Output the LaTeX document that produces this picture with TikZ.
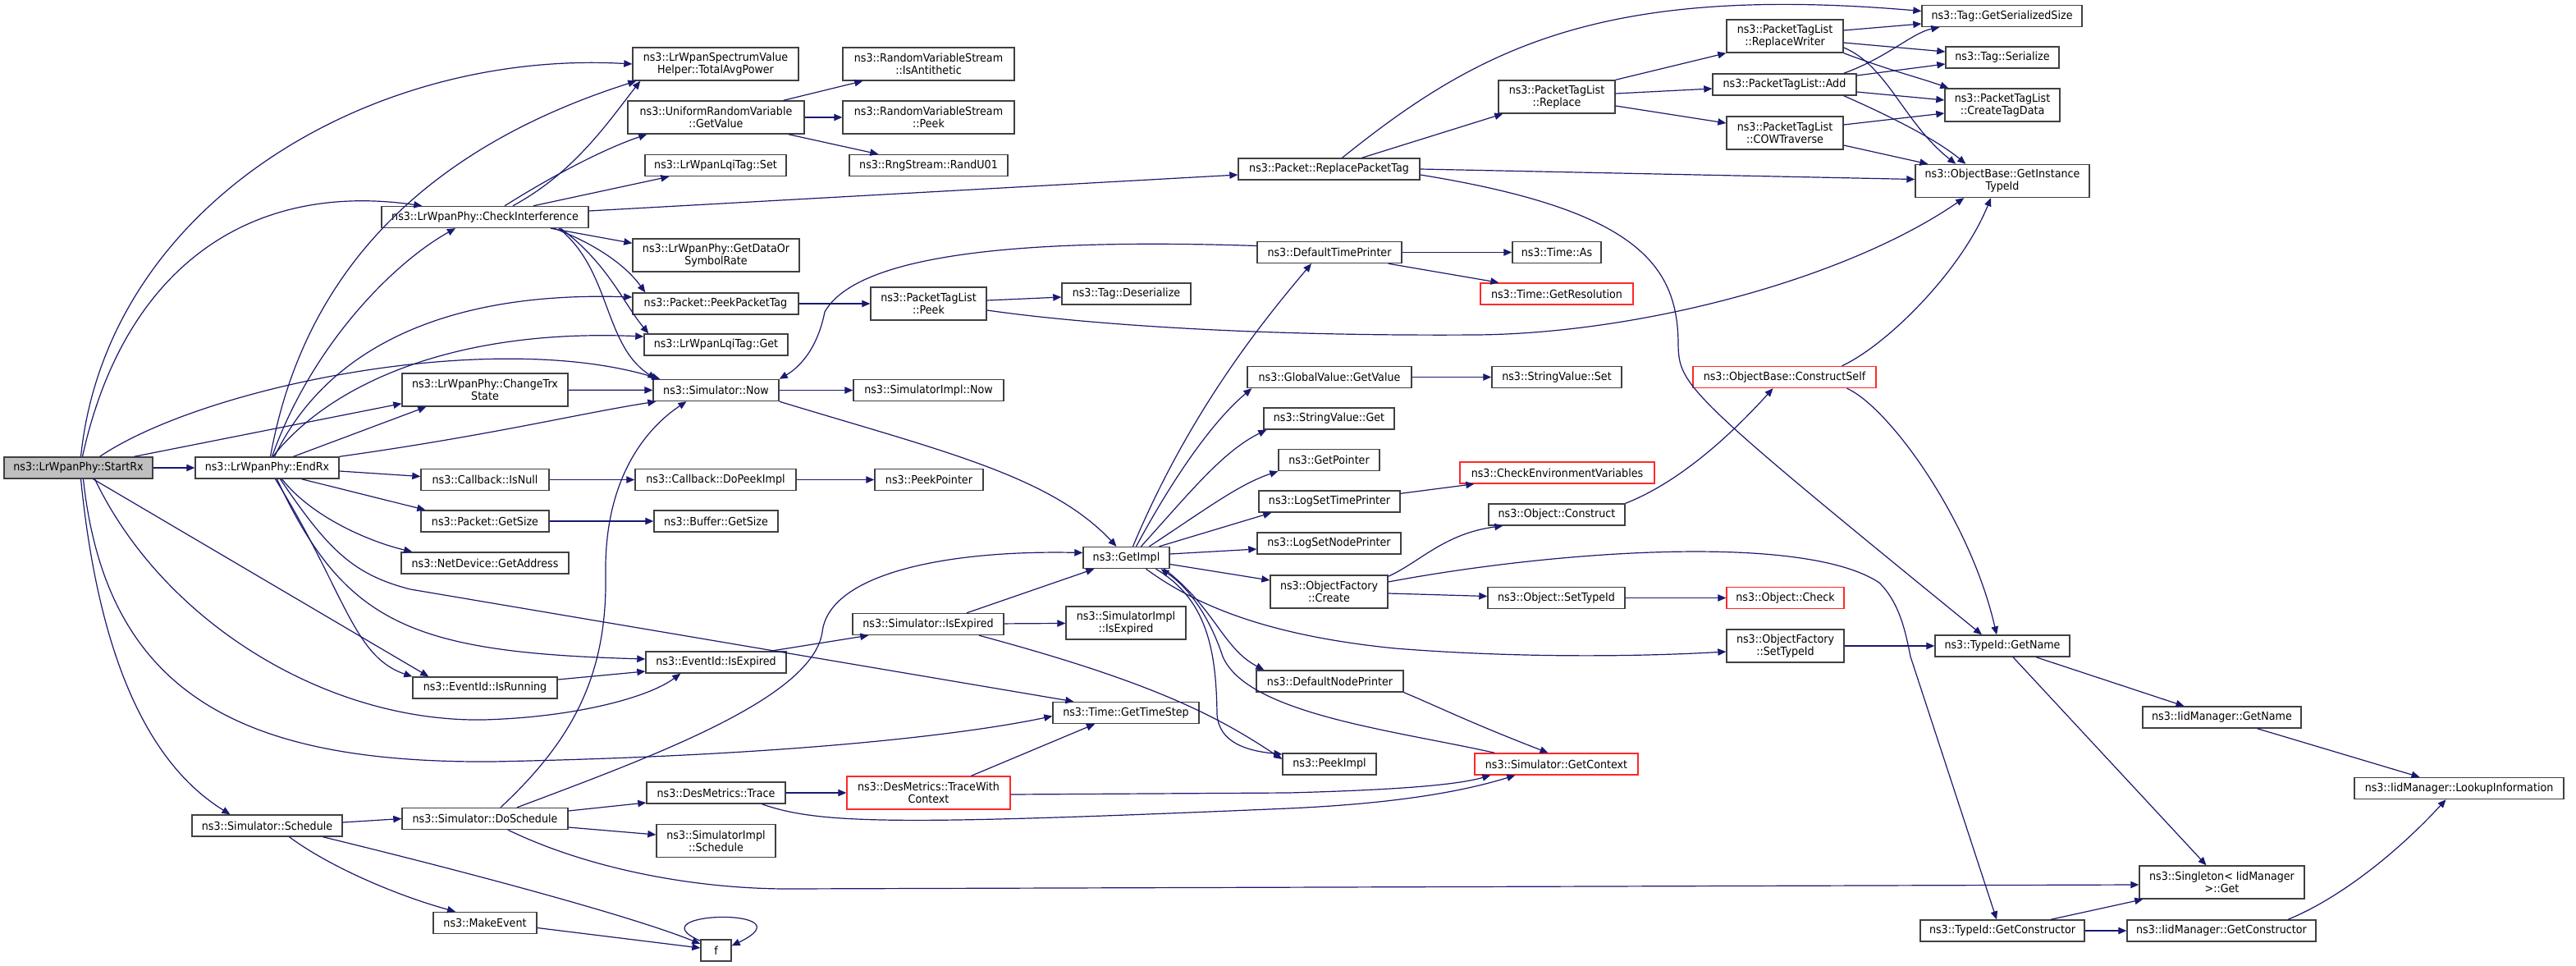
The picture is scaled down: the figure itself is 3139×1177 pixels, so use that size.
\documentclass[tikz,border=0pt]{standalone}
\usepackage{fontspec}
\setmainfont{DejaVu Sans}[FakeStretch=0.92]
\usetikzlibrary{arrows.meta}
\definecolor{edgeblue}{RGB}{25,25,112}
\definecolor{boxgray}{RGB}{64,64,64}
\definecolor{boxred}{RGB}{255,40,40}
\definecolor{curfill}{RGB}{191,191,191}

\begin{document}
\begin{tikzpicture}[x=0.5pt,y=-0.5pt,
        fnbox/.style={draw=boxgray,line width=0.7pt,fill=white,inner sep=1pt,align=center,
            font=\fontsize{6.9}{7.5}\selectfont,minimum height=13pt},
        tallbox/.style={fnbox,minimum height=20pt},
        redbox/.style={draw=boxred},
        curbox/.style={fill=curfill},
        boxw/.style={minimum width=#1*0.5pt},
        callarrow/.style={draw=edgeblue,line width=0.6pt,-{Triangle[length=5pt,width=4.2pt]}}]
        \useasboundingbox (0,0) rectangle (3139,1177);
        \fill[white] (0,0) rectangle (3139,1177);
        % nodes, left columns
        \node[fnbox,curbox,boxw=181] (startrx) at (95.5,570) {ns3::LrWpanPhy::StartRx};
        \node[fnbox,boxw=175] (endrx) at (325.5,570) {ns3::LrWpanPhy::EndRx};
        \node[fnbox,boxw=183] (schedule) at (325.5,1006) {ns3::Simulator::Schedule};
        \node[fnbox,boxw=252] (checkint) at (591,264.5) {ns3::LrWpanPhy::CheckInterference};
        \node[tallbox,boxw=202] (changetrx) at (591,475) {ns3::LrWpanPhy::ChangeTrx\\State};
        \node[fnbox,boxw=156] (isnull) at (591,584.5) {ns3::Callback::IsNull};
        \node[fnbox,boxw=156] (pktsize) at (591,635) {ns3::Packet::GetSize};
        \node[fnbox,boxw=204] (getaddr) at (591,686) {ns3::NetDevice::GetAddress};
        \node[fnbox,boxw=176] (isrunning) at (591,838) {ns3::EventId::IsRunning};
        \node[fnbox,boxw=202] (doschedule) at (591,997.5) {ns3::Simulator::DoSchedule};
        \node[fnbox,boxw=126] (makeevent) at (591,1124.5) {ns3::MakeEvent};
        % nodes, fourth column
        \node[tallbox,boxw=202] (totalavg) at (872,78) {ns3::LrWpanSpectrumValue\\Helper::TotalAvgPower};
        \node[tallbox,boxw=215] (urvget) at (872.5,143) {ns3::UniformRandomVariable\\::GetValue};
        \node[fnbox,boxw=172] (lqiset) at (872,201.5) {ns3::LrWpanLqiTag::Set};
        \node[tallbox,boxw=203] (datarate) at (872.5,311) {ns3::LrWpanPhy::GetDataOr\\SymbolRate};
        \node[fnbox,boxw=202] (peekpkt) at (872,370) {ns3::Packet::PeekPacketTag};
        \node[fnbox,boxw=175] (lqiget) at (872.5,420) {ns3::LrWpanLqiTag::Get};
        \node[fnbox,boxw=153] (simnow) at (872.5,475.5) {ns3::Simulator::Now};
        \node[fnbox,boxw=196] (dopeekimpl) at (872,584.5) {ns3::Callback::DoPeekImpl};
        \node[fnbox,boxw=151] (bufsize) at (872.5,635) {ns3::Buffer::GetSize};
        \node[fnbox,boxw=171] (evexpired) at (872.5,807) {ns3::EventId::IsExpired};
        \node[fnbox,boxw=169] (destrace) at (872.5,966) {ns3::DesMetrics::Trace};
        \node[tallbox,boxw=145] (implschedule) at (872.5,1024.5) {ns3::SimulatorImpl\\::Schedule};
        \node[fnbox,boxw=37] (f) at (872.5,1158) {f};
        % nodes, fifth column
        \node[tallbox,boxw=209] (isantithetic) at (1131.5,78) {ns3::RandomVariableStream\\::IsAntithetic};
        \node[tallbox,boxw=209] (rvspeek) at (1131.5,143) {ns3::RandomVariableStream\\::Peek};
        \node[fnbox,boxw=193] (randu01) at (1131.5,201.5) {ns3::RngStream::RandU01};
        \node[tallbox,boxw=141] (ptlpeek) at (1131.5,370) {ns3::PacketTagList\\::Peek};
        \node[fnbox,boxw=183] (simimplnow) at (1131.5,475.5) {ns3::SimulatorImpl::Now};
        \node[fnbox,boxw=132] (peekptr) at (1132,584.5) {ns3::PeekPointer};
        \node[fnbox,boxw=184] (simexpired) at (1131,760.5) {ns3::Simulator::IsExpired};
        \node[tallbox,redbox,boxw=199] (tracectx) at (1131.5,966) {ns3::DesMetrics::TraceWith\\Context};
        % nodes, sixth column
        \node[fnbox,boxw=157] (tagdeser) at (1372.5,358) {ns3::Tag::Deserialize};
        \node[fnbox,boxw=105] (getimpl) at (1372.5,679.5) {ns3::GetImpl};
        \node[tallbox,boxw=146] (implexpired) at (1372,759) {ns3::SimulatorImpl\\::IsExpired};
        \node[fnbox,boxw=178] (timestep) at (1372,868.5) {ns3::Time::GetTimeStep};
        % nodes, seventh column
        \node[fnbox,boxw=221] (replacetag) at (1619.5,206) {ns3::Packet::ReplacePacketTag};
        \node[fnbox,boxw=176] (deftimeprinter) at (1620,307.5) {ns3::DefaultTimePrinter};
        \node[fnbox,boxw=200] (globalget) at (1620,459.5) {ns3::GlobalValue::GetValue};
        \node[fnbox,boxw=159] (strget) at (1619.5,510) {ns3::StringValue::Get};
        \node[fnbox,boxw=123] (getpointer) at (1619.5,560.5) {ns3::GetPointer};
        \node[fnbox,boxw=172] (logtime) at (1620,611) {ns3::LogSetTimePrinter};
        \node[fnbox,boxw=175] (lognode) at (1619.5,662) {ns3::LogSetNodePrinter};
        \node[tallbox,boxw=143] (ofcreate) at (1619.5,721) {ns3::ObjectFactory\\::Create};
        \node[fnbox,boxw=179] (defnodeprinter) at (1620.5,830) {ns3::DefaultNodePrinter};
        \node[fnbox,boxw=114] (peekimpl) at (1620,931) {ns3::PeekImpl};
        % nodes, eighth column
        \node[tallbox,boxw=142] (ptlreplace) at (1897,118) {ns3::PacketTagList\\::Replace};
        \node[fnbox,boxw=108] (timeas) at (1897,307.5) {ns3::Time::As};
        \node[fnbox,redbox,boxw=186] (getres) at (1897,358) {ns3::Time::GetResolution};
        \node[fnbox,boxw=158] (strset) at (1897,459.5) {ns3::StringValue::Set};
        \node[fnbox,redbox,boxw=237] (checkenv) at (1897.5,576) {ns3::CheckEnvironmentVariables};
        \node[fnbox,boxw=166] (objconstruct) at (1897,627) {ns3::Object::Construct};
        \node[fnbox,boxw=167] (objsettypeid) at (1896.5,728.5) {ns3::Object::SetTypeId};
        \node[fnbox,redbox,boxw=199] (getcontext) at (1896.5,931) {ns3::Simulator::GetContext};
        % nodes, ninth column
        \node[tallbox,boxw=142] (replacewriter) at (2175,44) {ns3::PacketTagList\\::ReplaceWriter};
        \node[fnbox,boxw=175] (ptladd) at (2174.5,103) {ns3::PacketTagList::Add};
        \node[tallbox,boxw=142] (cowtraverse) at (2175,162) {ns3::PacketTagList\\::COWTraverse};
        \node[fnbox,redbox,boxw=223] (constructself) at (2174.5,459.5) {ns3::ObjectBase::ConstructSelf};
        \node[fnbox,redbox,boxw=143] (objcheck) at (2175.5,728.5) {ns3::Object::Check};
        \node[tallbox,boxw=143] (ofsettypeid) at (2175.5,787) {ns3::ObjectFactory\\::SetTypeId};
        % nodes, right columns
        \node[fnbox,boxw=195] (serializedsize) at (2439.5,19.5) {ns3::Tag::GetSerializedSize};
        \node[fnbox,boxw=138] (tagserialize) at (2440,70) {ns3::Tag::Serialize};
        \node[tallbox,boxw=140] (createtagdata) at (2440,128) {ns3::PacketTagList\\::CreateTagData};
        \node[tallbox,boxw=212] (instancetypeid) at (2440,220.5) {ns3::ObjectBase::GetInstance\\TypeId};
        \node[fnbox,boxw=164] (typeidgetname) at (2440,787) {ns3::TypeId::GetName};
        \node[fnbox,boxw=200] (typeidgetctor) at (2440,1134) {ns3::TypeId::GetConstructor};
        \node[fnbox,boxw=193] (iidgetname) at (2707.5,874) {ns3::IidManager::GetName};
        \node[tallbox,boxw=201] (singleton) at (2707.5,1075) {ns3::Singleton< IidManager\\>::Get};
        \node[fnbox,boxw=230] (iidgetctor) at (2707,1134) {ns3::IidManager::GetConstructor};
        \node[fnbox,boxw=255] (lookupinfo) at (2996.5,960.5) {ns3::IidManager::LookupInformation};
        % calls of StartRx
        \draw[callarrow] (startrx) -- (endrx);
        \draw[callarrow] ([xshift=1.5pt]startrx.north) .. controls (130,250) and (450,60) .. (totalavg.west);
        \draw[callarrow] ([xshift=2.5pt]startrx.north) .. controls (150,330) and (300,220) .. ([xshift=25pt]checkint.north west);
        \draw[callarrow] ([xshift=13pt]startrx.north) .. controls (250,470) and (600,400) .. ([xshift=4.5pt]simnow.north west);
        \draw[callarrow] ([xshift=34pt]startrx.north) -- ([yshift=2pt]changetrx.south west);
        \draw[callarrow] ([xshift=1.5pt]startrx.south) .. controls (120,800) and (180,930) .. ([xshift=-22.5pt]schedule.north);
        \draw[callarrow] ([xshift=3pt]startrx.south) .. controls (130,850) and (300,930) .. (600,928) .. controls (1000,920) and (1200,890) .. ([yshift=-2pt]timestep.west);
        \draw[callarrow] ([xshift=10pt]startrx.south) .. controls (200,760) and (400,880) .. (589,877) .. controls (700,874) and (790,850) .. ([xshift=21.5pt]evexpired.south west);
        \draw[callarrow] ([xshift=9pt]startrx.south) -- ([xshift=10pt]isrunning.north west);
        % calls of EndRx
        \draw[callarrow] ([xshift=2pt]endrx.north) .. controls (370,330) and (520,180) .. ([xshift=2.5pt]totalavg.south west);
        \draw[callarrow] ([xshift=3pt]endrx.north) .. controls (380,420) and (480,320) .. ([xshift=-18pt]checkint.south);
        \draw[callarrow] ([xshift=4.5pt]endrx.north) .. controls (400,420) and (550,355) .. ([yshift=4pt]peekpkt.west);
        \draw[callarrow] ([xshift=3.5pt]endrx.north) .. controls (400,470) and (550,400) .. ([yshift=5pt]lqiget.west);
        \draw[callarrow] ([xshift=16pt]endrx.north) -- ([xshift=15pt]changetrx.south west);
        \draw[callarrow] (endrx.north east) .. controls (600,530) and (700,505) .. ([xshift=2pt]simnow.south west);
        \draw[callarrow] ([yshift=-2pt]endrx.east) -- ([yshift=2pt]isnull.west);
        \draw[callarrow] ([xshift=21pt]endrx.south) -- ([xshift=3pt]pktsize.north west);
        \draw[callarrow] ([xshift=9pt]endrx.south) .. controls (380,630) and (450,660) .. ([xshift=7pt]getaddr.north west);
        \draw[callarrow] ([xshift=5pt]endrx.south) .. controls (420,720) and (430,800) .. (isrunning.north west);
        \draw[callarrow] ([xshift=6pt]endrx.south) .. controls (420,760) and (500,795) .. ([yshift=2pt]evexpired.west);
        \draw[callarrow] ([xshift=8pt]endrx.south) .. controls (400,670) and (430,700) .. (500,718) -- ([xshift=13pt]timestep.north west);
        % calls of CheckInterference
        \draw[callarrow] ([xshift=17pt]checkint.north) .. controls (700,210) and (740,150) .. ([xshift=5pt]totalavg.south west);
        \draw[callarrow] ([xshift=12pt]checkint.north) .. controls (680,210) and (740,180) .. ([xshift=12pt]urvget.south west);
        \draw[callarrow] ([xshift=29.5pt]checkint.north) -- ([xshift=15pt]lqiset.south west);
        \draw[callarrow] ([yshift=3.75pt]checkint.east) -- ([yshift=-3.5pt]replacetag.west);
        \draw[callarrow] ([xshift=40pt]checkint.south) -- ([yshift=-3pt]datarate.north west);
        \draw[callarrow] ([xshift=42pt]checkint.south) .. controls (720,295) and (760,320) .. ([xshift=8pt]peekpkt.north west);
        \draw[callarrow] ([xshift=46pt]checkint.south) .. controls (740,320) and (760,370) .. ([xshift=3pt]lqiget.north west);
        \draw[callarrow] ([xshift=45pt]checkint.south) .. controls (745,330) and (735,420) .. ([xshift=2pt]simnow.north west);
        % random variable
        \draw[callarrow] ([xshift=-13pt]urvget.north east) -- ([xshift=12.5pt]isantithetic.south west);
        \draw[callarrow] (urvget) -- (rvspeek);
        \draw[callarrow] ([xshift=-10pt]urvget.south east) -- ([xshift=18pt]randu01.north west);
        % packet tags
        \draw[callarrow] (peekpkt) -- (ptlpeek);
        \draw[callarrow] ([yshift=2pt]ptlpeek.east) -- ([yshift=-2pt]tagdeser.west);
        \draw[callarrow] ([yshift=-4pt]ptlpeek.east) .. controls (1300,392) and (1500,410) .. (1800,408) .. controls (2000,406) and (2250,340) .. ([xshift=30pt]instancetypeid.south west);
        % simulator now
        \draw[callarrow] (simnow) -- (simimplnow);
        \draw[callarrow] (simnow.south east) .. controls (1150,550) and (1280,580) .. ([xshift=-6pt]getimpl.north);
        \draw[callarrow] (changetrx) -- (simnow);
        \draw[callarrow] (isnull) -- (dopeekimpl);
        \draw[callarrow] (dopeekimpl) -- (peekptr);
        \draw[callarrow] (pktsize) -- (bufsize);
        % events
        \draw[callarrow] ([yshift=5pt]isrunning.east) -- ([yshift=-5.5pt]evexpired.west);
        \draw[callarrow] ([xshift=-10pt]evexpired.north east) -- ([xshift=10pt]simexpired.south west);
        \draw[callarrow] ([xshift=23.5pt]simexpired.north) -- ([xshift=7pt]getimpl.south west);
        \draw[callarrow] (simexpired) -- (implexpired);
        \draw[callarrow] ([xshift=31pt]simexpired.south) .. controls (1400,830) and (1480,870) .. ([yshift=3pt]peekimpl.west);
        % schedule
        \draw[callarrow] ([yshift=2pt]schedule.east) -- (doschedule.west);
        \draw[callarrow] ([xshift=13.5pt]schedule.south) .. controls (400,1055) and (480,1090) .. ([xshift=-18pt]makeevent.north);
        \draw[callarrow] ([xshift=34pt]schedule.south) .. controls (600,1070) and (780,1120) .. ([yshift=4pt]f.west);
        \draw[callarrow] ([yshift=-3pt]makeevent.east) -- ([yshift=1.5pt]f.west);
        \draw[callarrow] ([yshift=-1pt]f.north west) .. controls (770,1110) and (990,1105) .. ([yshift=-4pt]f.north east);
        \draw[callarrow] ([xshift=9.5pt]doschedule.north) .. controls (700,900) and (740,820) .. (738,700) .. controls (736,580) and (790,520) .. ([xshift=-18pt]simnow.south);
        \draw[callarrow] ([xshift=19.5pt]doschedule.north) .. controls (800,920) and (990,850) .. (1002,770) .. controls (1010,700) and (1150,670) .. ([yshift=3pt]getimpl.west);
        \draw[callarrow] ([yshift=4.75pt]doschedule.east) -- ([yshift=-6pt]destrace.west);
        \draw[callarrow] ([yshift=-5.25pt]doschedule.east) -- ([yshift=3.75pt]implschedule.west);
        \draw[callarrow] ([xshift=14pt]doschedule.south) .. controls (720,1060) and (850,1083) .. (960,1083) -- ([yshift=-1.5pt]singleton.west);
        % des metrics
        \draw[callarrow] (destrace) -- (tracectx);
        \draw[callarrow] ([xshift=28pt]destrace.south) .. controls (1000,1005) and (1100,1005) .. (1570,985) .. controls (1700,979) and (1780,965) .. ([xshift=25pt]getcontext.south west);
        \draw[callarrow] ([yshift=-1pt]tracectx.east) -- (1570,966) .. controls (1720,962) and (1780,955) .. ([xshift=10pt]getcontext.south west);
        \draw[callarrow] ([xshift=26pt]tracectx.north) -- ([xshift=-19pt]timestep.south);
        % calls of GetImpl
        \draw[callarrow] ([xshift=4pt]getimpl.north) .. controls (1450,500) and (1540,390) .. ([xshift=-11pt]deftimeprinter.south);
        \draw[callarrow] ([xshift=6pt]getimpl.north) .. controls (1420,600) and (1470,520) .. ([xshift=3pt]globalget.south west);
        \draw[callarrow] ([xshift=9pt]getimpl.north) .. controls (1450,600) and (1490,550) .. ([xshift=2pt]strget.south west);
        \draw[callarrow] ([xshift=14pt]getimpl.north) .. controls (1470,620) and (1510,590) .. (getpointer.south west);
        \draw[callarrow] ([xshift=20pt]getimpl.north) -- ([xshift=8pt]logtime.south west);
        \draw[callarrow] ([yshift=2.25pt]getimpl.east) -- ([yshift=-3.5pt]lognode.west);
        \draw[callarrow] ([yshift=-4pt]getimpl.east) -- ([yshift=7pt]ofcreate.west);
        \draw[callarrow] ([xshift=12pt]getimpl.south) .. controls (1460,740) and (1550,775) .. (1700,790) .. controls (1850,802) and (2000,800) .. ([yshift=-3.5pt]ofsettypeid.west);
        \draw[callarrow] ([xshift=18pt]getimpl.south) .. controls (1470,730) and (1482,790) .. (1483,870) .. controls (1485,905) and (1520,915) .. ([yshift=6pt]peekimpl.west);
        \draw[callarrow] ([xshift=23pt]getimpl.south) .. controls (1480,740) and (1490,790) .. ([xshift=5pt]defnodeprinter.north west);
        \draw[callarrow] ([xshift=12.5pt]getcontext.north west) .. controls (1700,890) and (1520,870) .. (1490,800) .. controls (1470,740) and (1440,710) .. ([xshift=21pt]getimpl.south);
        % printers and values
        \draw[callarrow] (deftimeprinter) -- (timeas);
        \draw[callarrow] ([xshift=-8.5pt]deftimeprinter.south east) -- ([xshift=11.5pt]getres.north west);
        \draw[callarrow] ([yshift=4pt]deftimeprinter.west) .. controls (1300,292) and (1050,300) .. (1005,380) .. controls (995,430) and (970,450) .. (simnow.north east);
        \draw[callarrow] (globalget) -- (strset);
        \draw[callarrow] ([yshift=-2pt]logtime.north east) -- ([xshift=9pt]checkenv.south west);
        \draw[callarrow] (defnodeprinter.south east) .. controls (1750,860) and (1790,880) .. ([xshift=-5pt]getcontext.north);
        % object factory
        \draw[callarrow] ([yshift=-1pt]ofcreate.north east) .. controls (1730,685) and (1760,650) .. ([xshift=9pt]objconstruct.south west);
        \draw[callarrow] ([yshift=-1pt]ofcreate.east) -- ([yshift=1pt]objsettypeid.west);
        \draw[callarrow] ([yshift=6pt]ofcreate.east) .. controls (1900,670) and (2200,650) .. (2290,710) .. controls (2315,735) and (2322,770) .. (2328,800) -- ([xshift=-3.5pt]typeidgetctor.north);
        \draw[callarrow] (objsettypeid) -- (objcheck);
        \draw[callarrow] (objconstruct.north east) .. controls (2040,590) and (2100,540) .. ([xshift=-7pt]constructself.south);
        \draw[callarrow] ([xshift=35pt]constructself.north) .. controls (2300,420) and (2390,330) .. ([xshift=-7pt]instancetypeid.south);
        \draw[callarrow] ([xshift=38pt]constructself.south) .. controls (2300,495) and (2400,630) .. ([xshift=-3.5pt]typeidgetname.north);
        % calls of ReplacePacketTag
        \draw[callarrow] ([xshift=20pt]replacetag.north) -- ([xshift=3pt]ptlreplace.south west);
        \draw[callarrow] ([xshift=8pt]replacetag.north) .. controls (1800,60) and (1950,-20) .. ([yshift=3pt]serializedsize.west);
        \draw[callarrow] (replacetag.east) -- ([yshift=1pt]instancetypeid.west);
        \draw[callarrow] ([yshift=-3.5pt]replacetag.east) .. controls (1990,255) and (2045,320) .. (2045,420) .. controls (2046,470) and (2055,480) .. ([xshift=-12.5pt]typeidgetname.north);
        % packet tag list
        \draw[callarrow] (ptlreplace.north east) -- (replacewriter.south west);
        \draw[callarrow] ([yshift=2pt]ptlreplace.east) -- ([yshift=-2.5pt]ptladd.west);
        \draw[callarrow] ([yshift=-5.5pt]ptlreplace.east) -- ([yshift=6pt]cowtraverse.west);
        \draw[callarrow] ([yshift=3.5pt]replacewriter.east) -- ([yshift=-4.75pt]serializedsize.west);
        \draw[callarrow] ([yshift=-4pt]replacewriter.east) -- ([yshift=3.5pt]tagserialize.west);
        \draw[callarrow] (replacewriter.south east) .. controls (2300,85) and (2340,95) .. ([xshift=2.5pt]createtagdata.north west);
        \draw[callarrow] ([yshift=-7pt]replacewriter.east) .. controls (2300,80) and (2320,150) .. ([xshift=25pt]instancetypeid.north west);
        \draw[callarrow] ([xshift=-8pt]ptladd.north east) .. controls (2300,70) and (2330,40) .. ([xshift=11pt]serializedsize.south west);
        \draw[callarrow] ([yshift=5.5pt]ptladd.east) -- ([yshift=-4pt]tagserialize.west);
        \draw[callarrow] ([yshift=-4.5pt]ptladd.east) -- ([yshift=3pt]createtagdata.west);
        \draw[callarrow] ([xshift=-8pt]ptladd.south east) .. controls (2300,140) and (2360,170) .. ([xshift=31pt]instancetypeid.north west);
        \draw[callarrow] ([yshift=5pt]cowtraverse.east) -- ([yshift=-5pt]createtagdata.west);
        \draw[callarrow] ([yshift=-7.5pt]cowtraverse.east) -- ([xshift=8pt]instancetypeid.north west);
        % type id
        \draw[callarrow] (ofsettypeid) -- (typeidgetname);
        \draw[callarrow] ([xshift=20.5pt]typeidgetname.south) -- ([xshift=-23pt]iidgetname.north);
        \draw[callarrow] ([xshift=6.5pt]typeidgetname.south) -- ([xshift=-9.5pt]singleton.north);
        \draw[callarrow] ([xshift=21.5pt]iidgetname.south) -- ([xshift=-24pt]lookupinfo.north);
        \draw[callarrow] ([xshift=29.5pt]typeidgetctor.north) -- ([xshift=2.5pt]singleton.south west);
        \draw[callarrow] (typeidgetctor) -- (iidgetctor);
        \draw[callarrow] ([xshift=40.5pt]iidgetctor.north) .. controls (2850,1095) and (2920,1040) .. ([xshift=-8pt]lookupinfo.south);
    \end{tikzpicture}
\end{document}
